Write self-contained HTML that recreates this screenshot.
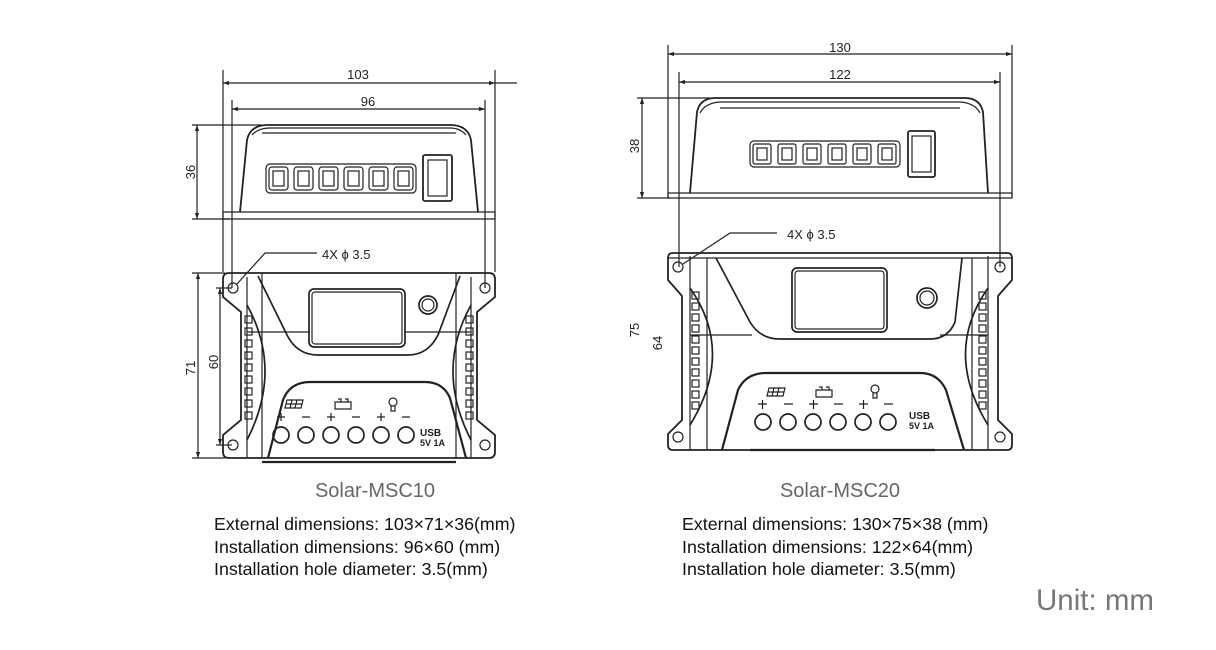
<!DOCTYPE html>
<html><head><meta charset="utf-8"><style>
html,body{margin:0;padding:0;background:#fff;}
svg{display:block;}
.t{font-family:"Liberation Sans",sans-serif;}
</style></head><body>
<svg width="1216" height="650" viewBox="0 0 1216 650" xmlns="http://www.w3.org/2000/svg">
<defs>
<marker id="a" viewBox="0 0 10 10" refX="10" refY="5" markerWidth="8" markerHeight="6" orient="auto-start-reverse" markerUnits="userSpaceOnUse"><path d="M0,1.5 L10,5 L0,8.5 Z" fill="#222"/></marker>
</defs>
<g fill="none" stroke="#222" stroke-width="1.2">
<line x1="223" y1="70" x2="223" y2="272"/><line x1="495" y1="70" x2="495" y2="272"/>
<line x1="223" y1="83" x2="495" y2="83" marker-start="url(#a)" marker-end="url(#a)"/><line x1="495" y1="83" x2="517" y2="83"/>
<line x1="232" y1="100" x2="232" y2="288"/><line x1="485" y1="100" x2="485" y2="288"/>
<line x1="232" y1="109" x2="485" y2="109" marker-start="url(#a)" marker-end="url(#a)"/>
<line x1="192" y1="125" x2="262" y2="125"/><line x1="192" y1="219" x2="230" y2="219"/>
<line x1="197" y1="125" x2="197" y2="219" marker-start="url(#a)" marker-end="url(#a)"/>
<line x1="192" y1="273" x2="225" y2="273"/><line x1="192" y1="458" x2="225" y2="458"/>
<line x1="198" y1="273" x2="198" y2="458" marker-start="url(#a)" marker-end="url(#a)"/>
<line x1="216" y1="288" x2="232" y2="288"/><line x1="216" y1="445" x2="232" y2="445"/>
<line x1="220" y1="288" x2="220" y2="445" marker-start="url(#a)" marker-end="url(#a)"/>
<path d="M223,212 H495 V219 H223 Z"/>
<path d="M240,212 L247,140 Q250,125 268,125 L450,125 Q468,125 471,140 L478,212" stroke-width="1.8"/>
<path d="M252,135 Q258,128 270,128 L450,128 Q460,128 466,135"/>
<line x1="262" y1="133" x2="456" y2="133"/>
<rect x="266" y="164" width="150" height="29" rx="4"/>
<g id="lb"><rect x="269" y="167" width="19" height="23" rx="3"/><rect x="273" y="171" width="11" height="15"/></g>
<use href="#lb" x="25"/><use href="#lb" x="50"/><use href="#lb" x="75"/><use href="#lb" x="100"/><use href="#lb" x="125"/>
<rect x="423" y="155" width="29" height="46" rx="2" stroke-width="1.8"/><rect x="428" y="160" width="19" height="36"/>
<path d="M317,253 H265 L237,284"/>
<path d="M229,273 H489 Q495,273 495,279 V297 L477,312 V420 L495,435 V452 Q495,458 489,458 H229 Q223,458 223,452 V435 L241,420 V312 L223,297 V279 Q223,273 229,273 Z" stroke-width="1.8"/>
<line x1="247" y1="277" x2="247" y2="458"/><line x1="471" y1="277" x2="471" y2="458"/>
<line x1="262" y1="273" x2="262" y2="458"/><line x1="456" y1="273" x2="456" y2="458"/>
<path d="M247,305 Q283,370 247,440" stroke-width="1.7"/><path d="M471,305 Q435,370 471,440" stroke-width="1.7"/>
<path d="M258,276 L287,335 Q297,355 318,355 L408,355 Q428,355 438,335 L460,276" stroke-width="1.7"/>
<line x1="247" y1="332" x2="310" y2="332"/><line x1="405" y1="332" x2="471" y2="332"/>
<rect x="309" y="289" width="96" height="58" rx="5" stroke-width="1.7"/><rect x="312" y="292" width="90" height="52" rx="3"/>
<circle cx="428" cy="305" r="9" stroke-width="1.7"/><circle cx="428" cy="305" r="6"/>
<path d="M268,458 L283,400 Q290,382 310,382 L425,382 Q443,382 450,398 L466,458" stroke-width="2.2"/>
<line x1="262" y1="462" x2="456" y2="462" stroke-width="2.2"/>
<circle cx="233" cy="288" r="5"/><circle cx="485" cy="288" r="5"/><circle cx="233" cy="445" r="5"/><circle cx="485" cy="445" r="5"/>
<g id="ls"><rect x="245" y="316" width="7" height="7"/><rect x="245" y="328" width="7" height="7"/><rect x="245" y="340" width="7" height="7"/><rect x="245" y="352" width="7" height="7"/><rect x="245" y="364" width="7" height="7"/><rect x="245" y="376" width="7" height="7"/><rect x="245" y="388" width="7" height="7"/><rect x="245" y="400" width="7" height="7"/><rect x="245" y="412" width="7" height="7"/></g>
<use href="#ls" x="221"/>
<g stroke-width="1.7"><circle cx="281" cy="435" r="8"/><circle cx="306" cy="435" r="8"/><circle cx="331" cy="435" r="8"/><circle cx="356" cy="435" r="8"/><circle cx="381" cy="435" r="8"/><circle cx="406" cy="435" r="8"/></g>
<path d="M277,417 h8 M281,413 v8 M302,417 h8 M327,417 h8 M331,413 v8 M352,417 h8 M377,417 h8 M381,413 v8 M402,417 h8"/>
<path d="M287,400 h16 l-2,8 h-16 z M286,404 h16 M292,400 l-2,8 M297,400 l-2,8"/>
<path d="M335,402 h16 v7 h-16 z M338,399 h3 v3 M345,399 h3 v3"/>
<circle cx="393" cy="402" r="4"/><path d="M391,406 v5 h4 v-5"/>
<line x1="668" y1="45" x2="668" y2="198"/><line x1="1012" y1="45" x2="1012" y2="198"/>
<line x1="668" y1="54" x2="1012" y2="54" marker-start="url(#a)" marker-end="url(#a)"/>
<line x1="679" y1="72" x2="679" y2="267"/><line x1="1000" y1="72" x2="1000" y2="267"/>
<line x1="679" y1="82" x2="1000" y2="82" marker-start="url(#a)" marker-end="url(#a)"/>
<line x1="637" y1="98" x2="710" y2="98"/><line x1="637" y1="198" x2="670" y2="198"/>
<line x1="642" y1="98" x2="642" y2="198" marker-start="url(#a)" marker-end="url(#a)"/>
<path d="M668,193 H1012 V198 H668 Z"/>
<path d="M690,193 L697,112 Q700,98 715,98 L965,98 Q980,98 983,112 L988,193" stroke-width="1.8"/>
<path d="M700,113 Q705,103 720,102 L960,102 Q975,103 980,113"/>
<line x1="720" y1="108" x2="960" y2="108"/>
<rect x="750" y="141" width="150" height="26" rx="4"/>
<g id="rb"><rect x="753" y="144" width="18" height="20" rx="2"/><rect x="757" y="148" width="10" height="12"/></g>
<use href="#rb" x="25"/><use href="#rb" x="50"/><use href="#rb" x="75"/><use href="#rb" x="100"/><use href="#rb" x="125"/>
<rect x="908" y="131" width="27" height="46" rx="2" stroke-width="1.8"/><rect x="912" y="136" width="19" height="36"/>
<path d="M777,233 H730 L683,264"/>
<path d="M673,253 H1007 Q1012,253 1012,258 V280 L998,296 V420 L1012,434 V445 Q1012,450 1007,450 H673 Q668,450 668,445 V434 L682,420 V296 L668,280 V258 Q668,253 673,253 Z" stroke-width="1.8"/>
<line x1="690" y1="256" x2="690" y2="450"/><line x1="988" y1="256" x2="988" y2="450"/>
<line x1="707" y1="258" x2="707" y2="450"/><line x1="972" y1="258" x2="972" y2="450"/>
<path d="M690,288 Q735,352 690,425" stroke-width="1.7"/><path d="M988,288 Q943,352 988,425" stroke-width="1.7"/>
<path d="M716,258 L750,322 Q760,339 780,339 L930,339 Q948,339 955,322 L962,258" stroke-width="1.7"/>
<line x1="690" y1="335" x2="752" y2="335"/><line x1="940" y1="335" x2="988" y2="335"/>
<rect x="792" y="268" width="95" height="64" rx="5" stroke-width="1.7"/><rect x="795" y="271" width="89" height="58" rx="3"/>
<circle cx="927" cy="298" r="10" stroke-width="1.7"/><circle cx="927" cy="298" r="7"/>
<line x1="668" y1="258" x2="1012" y2="258"/>
<path d="M722,450 L738,390 Q746,373 766,373 L920,373 Q938,373 946,390 L964,450" stroke-width="2.2"/>
<line x1="750" y1="450" x2="935" y2="450" stroke-width="2.2"/>
<circle cx="678" cy="267" r="5"/><circle cx="1000" cy="267" r="5"/><circle cx="678" cy="437" r="5"/><circle cx="1000" cy="437" r="5"/>
<g id="rs"><rect x="692" y="292" width="7" height="7"/><rect x="692" y="303" width="7" height="7"/><rect x="692" y="314" width="7" height="7"/><rect x="692" y="325" width="7" height="7"/><rect x="692" y="336" width="7" height="7"/><rect x="692" y="347" width="7" height="7"/><rect x="692" y="358" width="7" height="7"/><rect x="692" y="369" width="7" height="7"/><rect x="692" y="380" width="7" height="7"/><rect x="692" y="391" width="7" height="7"/><rect x="692" y="402" width="7" height="7"/></g>
<use href="#rs" x="287"/>
<g stroke-width="1.7"><circle cx="763" cy="422" r="8"/><circle cx="788" cy="422" r="8"/><circle cx="813" cy="422" r="8"/><circle cx="838" cy="422" r="8"/><circle cx="863" cy="422" r="8"/><circle cx="888" cy="422" r="8"/></g>
<path d="M758,404 h9 M762.5,400 v9 M784,404 h9 M809,404 h9 M813.5,400 v9 M834,404 h9 M859,404 h9 M863.5,400 v9 M884,404 h9"/>
<path d="M769,388 h16 l-2,8 h-16 z M768,392 h16 M774,388 l-2,8 M779,388 l-2,8"/>
<path d="M816,390 h16 v7 h-16 z M819,387 h3 v3 M826,387 h3 v3"/>
<circle cx="875" cy="389" r="4"/><path d="M873,393 v5 h4 v-5"/>
</g>
<g class="t" fill="#222">
<text x="358" y="79" font-size="13" text-anchor="middle">103</text>
<text x="368" y="106" font-size="13" text-anchor="middle">96</text>
<text x="195" y="172" font-size="13" text-anchor="middle" transform="rotate(-90 195 172)">36</text>
<text x="322" y="259" font-size="13">4X ϕ 3.5</text>
<text x="195" y="368" font-size="13" text-anchor="middle" transform="rotate(-90 195 368)">71</text>
<text x="218" y="362" font-size="13" text-anchor="middle" transform="rotate(-90 218 362)">60</text>
<text x="420" y="436" font-size="10" font-weight="bold">USB</text>
<text x="420" y="446" font-size="9" font-weight="bold">5V 1A</text>
<text x="840" y="52" font-size="13" text-anchor="middle">130</text>
<text x="840" y="79" font-size="13" text-anchor="middle">122</text>
<text x="639" y="146" font-size="13" text-anchor="middle" transform="rotate(-90 639 146)">38</text>
<text x="787" y="239" font-size="13">4X ϕ 3.5</text>
<text x="639" y="330" font-size="13" text-anchor="middle" transform="rotate(-90 639 330)">75</text>
<text x="662" y="343" font-size="13" text-anchor="middle" transform="rotate(-90 662 343)">64</text>
<text x="909" y="419" font-size="10" font-weight="bold">USB</text>
<text x="909" y="429" font-size="9" font-weight="bold">5V 1A</text>
</g>
<g class="t">
<text x="375" y="497" font-size="20" fill="#666" text-anchor="middle">Solar-MSC10</text>
<text x="840" y="497" font-size="20" fill="#666" text-anchor="middle">Solar-MSC20</text>
<g font-size="17.8" fill="#111">
<text x="214" y="530">External dimensions: 103×71×36(mm)</text>
<text x="214" y="553">Installation dimensions: 96×60 (mm)</text>
<text x="214" y="575">Installation hole diameter: 3.5(mm)</text>
<text x="682" y="530">External dimensions: 130×75×38 (mm)</text>
<text x="682" y="553">Installation dimensions: 122×64(mm)</text>
<text x="682" y="575">Installation hole diameter: 3.5(mm)</text>
</g>
<text x="1154" y="610" font-size="29.5" fill="#777" text-anchor="end">Unit: mm</text>
</g>
</svg>
</body></html>
